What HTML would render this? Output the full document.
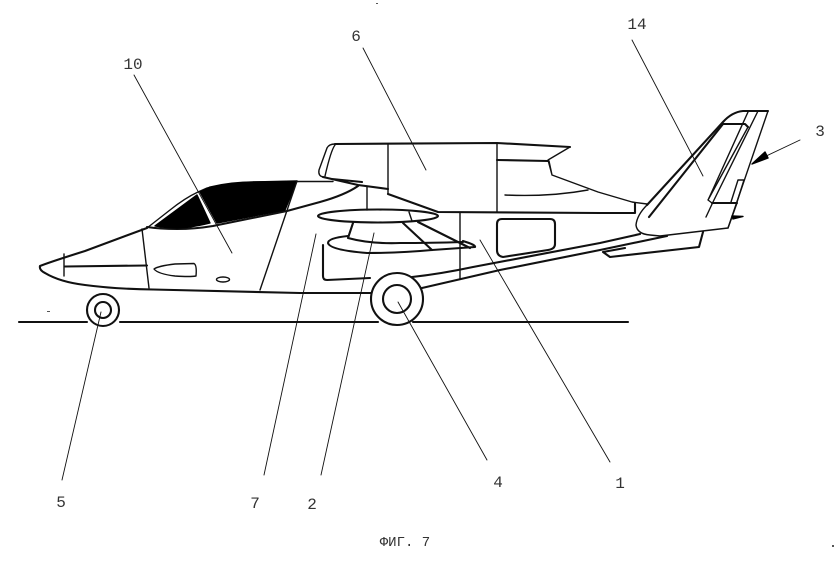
<!DOCTYPE html>
<html><head><meta charset="utf-8"><style>
html,body{margin:0;padding:0;background:#fff;width:840px;height:567px;overflow:hidden}
svg{display:block}
text{font-family:"Liberation Mono",monospace;font-size:16px;fill:#333;text-anchor:middle}
path,line,circle,ellipse{fill:none;stroke:#111;stroke-width:1.4;stroke-linecap:round;stroke-linejoin:round}
.t{stroke-width:2.1}
.h{stroke-width:.9}
.k{fill:#000;stroke:#000}
.s{fill:#555;stroke:none}
</style></head><body>
<svg width="840" height="567" viewBox="0 0 840 567">
<!-- ground -->
<path class="t" d="M19 322H87M120 322H378M413 322H628"/>
<!-- fuselage -->
<path class="t" d="M147 228L85 251Q50 262 40 266Q39 270 45 273Q60 282 85 285Q115 289 153 289.5L300 293H372"/>
<path d="M147 228L170 210Q185 198 198 192L207 188Q230 183 253 182L300 181.500H333"/>
<path class="t" d="M147 227Q160 229 177 229Q195 229 213 226L287 211L320 202Q345 195 358 186"/>
<path class="k" d="M155 226L197 195L210 223Q190 228 177 228Q165 228 155 226Z"/>
<path class="k" d="M200 192L210 187Q232 182 253 182L297 181L285 210L217 223Z"/>
<path d="M64 254L64 276M142 229L149 288M297 181L260 290"/>
<path class="t" d="M65 266.500L147 265.500"/>
<path d="M154 269Q158 266 175 264L194 263.500Q197 265 196 276Q190 277 175 276Q158 274 154 269Z"/>
<ellipse cx="223" cy="279.500" rx="6.500" ry="2.500"/>
<!-- pod -->
<path class="t" d="M335 144L497 143L570 147"/>
<path d="M335 144Q329 144 327 148L319 170Q318 176 323 177M335 145Q331 150 325 176"/>
<path class="t" d="M332 179L362 182M323 177L358 185L388 189"/>
<path d="M388 144V194M497 143V212M367 187V210"/>
<path class="t" d="M388 194L438 212L600 213H635V203M497 160L548 161"/>
<path d="M570 147L548 160L552 175M549 161L552 175L598 192L632 202L647 204"/>
<path d="M505 195Q550 197 588 190"/>
<!-- rotor group -->
<ellipse class="t" cx="378" cy="216" rx="60" ry="6.500"/>
<path class="t" d="M353 223L348 238Q370 244 400 243Q430 243 463 242"/>
<path class="t" d="M348 236Q328 238 328 243Q330 250 367 253Q400 253 432 250L475 247Q476 245 463 241"/>
<path class="t" d="M418 222L470 248M403 223L432 250"/>
<path d="M409 212L412 221"/>
<path class="t" d="M323 245V276Q323 280 327 280L370 278"/>
<path class="t" d="M412 277Q440 274 473 267L600 243L640 234"/>
<path class="t" d="M422 288L500 270L600 250L667 236"/>
<path d="M460 213V279"/>
<path class="t" d="M502 219H550Q555 219 555 224V244Q555 249 548 250L503 257Q497 256 497 250V224Q497 219 502 219Z"/>
<!-- wheels -->
<circle class="t" cx="397" cy="299" r="26" style="fill:#fff"/>
<circle class="t" cx="397" cy="299" r="14"/>
<circle class="t" cx="103" cy="310" r="16"/>
<circle class="t" cx="103" cy="310" r="8"/>
<!-- tail -->
<path class="t" d="M647 205L723 122Q732 112 743 111H768"/>
<path d="M647 205Q637 215 636 225Q637 234 650 235L660 236L728 228L768 111"/>
<path class="t" d="M649 217L723 124H745L748 127"/>
<path d="M748 127L708 200L712 203M737 203L728 228"/>
<path class="t" d="M712 203H737"/>
<path d="M748 112L709 198M758 111L713 202L706 217M731 202L738 180H744L737 202"/>
<path class="k" d="M732 216L743 216.500L733 219Z"/>
<path class="t" d="M703 232L699 247L610 257L603 252L625 248"/>
<!-- leaders -->
<line class="h" x1="632" y1="40" x2="703" y2="176"/>
<line class="h" x1="800" y1="140" x2="760" y2="159"/>
<path class="k" d="M752 164L765 152L768 158Z"/>
<line class="h" x1="363" y1="48" x2="426" y2="170"/>
<line class="h" x1="134" y1="75" x2="232" y2="253"/>
<line class="h" x1="62" y1="480" x2="101" y2="312"/>
<line class="h" x1="264" y1="475" x2="316" y2="234"/>
<line class="h" x1="321" y1="475" x2="374" y2="233"/>
<line class="h" x1="487" y1="460" x2="398" y2="302"/>
<line class="h" x1="610" y1="462" x2="480" y2="240"/>
<!-- specks -->
<rect class="s" x="376" y="3" width="2" height="1"/>
<rect class="s" x="47" y="311" width="3" height="1"/>
<rect class="s" x="832" y="545" width="2" height="2"/>
<!-- labels -->
<text x="133" y="69">10</text>
<text x="356" y="41">6</text>
<text x="637" y="29">14</text>
<text x="820" y="136">3</text>
<text x="61" y="507">5</text>
<text x="255" y="508">7</text>
<text x="312" y="509">2</text>
<text x="498" y="487">4</text>
<text x="620" y="488">1</text>
<text x="405" y="546" style="font-size:14px">ФИГ. 7</text>
</svg>
</body></html>
